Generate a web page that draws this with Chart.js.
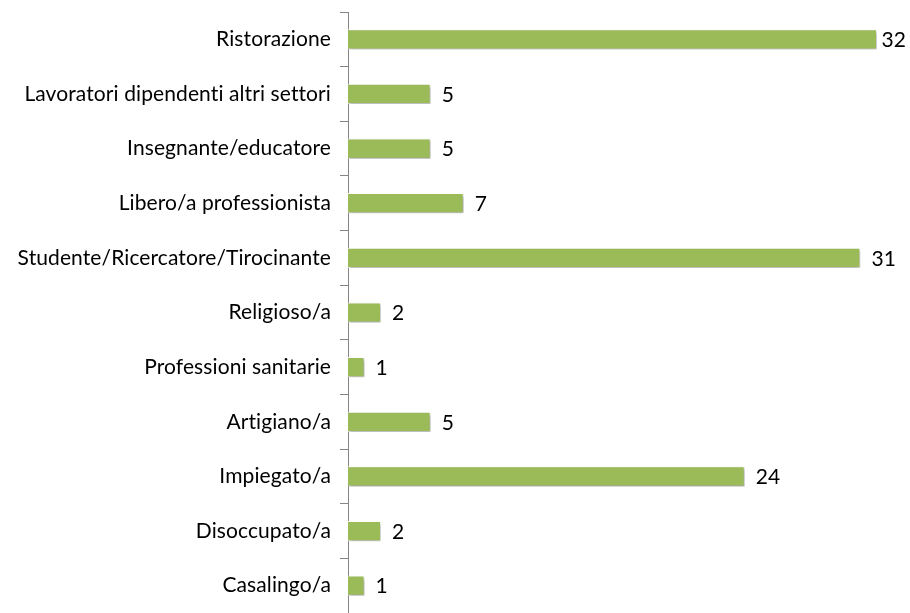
<!DOCTYPE html>
<html>
<head>
<meta charset="utf-8">
<script src="https://cdn.jsdelivr.net/npm/chart.js@4.4.0/dist/chart.umd.min.js"></script>
<style>
  html, body { margin: 0; padding: 0; background: #fff; }
  #wrap { width: 910px; height: 613px; position: relative; }
</style>
</head>
<body>
<div id="wrap"><canvas id="chart"></canvas></div>
<script>
const categories = [
    'Ristorazione',
    'Lavoratori dipendenti altri settori',
    'Insegnante/educatore',
    'Libero/a professionista',
    'Studente/Ricercatore/Tirocinante',
    'Religioso/a',
    'Professioni sanitarie',
    'Artigiano/a',
    'Impiegato/a',
    'Disoccupato/a',
    'Casalingo/a'
];
const counts = [32, 5, 5, 7, 31, 2, 1, 5, 24, 2, 1];

const fontFamily = 'Lato, "Open Sans", sans-serif';

// tiny letter spacing keeps Lato from joining "ti" into a ligature
const noLigatures = {
    id: 'noLigatures',
    beforeDraw(chart) {
        chart.ctx.letterSpacing = '0.1px';
    }
};

// soft drop shadow under the bars
const barShadow = {
    id: 'barShadow',
    beforeDatasetDraw(chart) {
        const c = chart.ctx;
        c.save();
        c.shadowColor = 'rgba(0,0,0,0.35)';
        c.shadowBlur = 3;
        c.shadowOffsetX = 1;
        c.shadowOffsetY = 2;
    },
    afterDatasetDraw(chart) {
        chart.ctx.restore();
    }
};

// value labels at the end of each bar
const valueLabels = {
    id: 'valueLabels',
    afterDatasetsDraw(chart) {
        const c = chart.ctx;
        const meta = chart.getDatasetMeta(0);
        c.save();
        c.font = '21px ' + fontFamily;
        c.fillStyle = '#000';
        c.textBaseline = 'middle';
        c.textAlign = 'left';
        meta.data.forEach((bar, i) => {
            const txt = String(counts[i]);
            const w = c.measureText(txt).width;
            const x = Math.min(bar.x + 11, chart.width - w - 4);
            c.fillText(txt, x, bar.y + 1);
        });
        c.restore();
    }
};

const ctx = document.getElementById('chart').getContext('2d');
new Chart(ctx, {
    type: 'bar',
    data: {
        labels: categories,
        datasets: [{
            data: counts,
            backgroundColor: '#9BBB59',
            borderColor: 'rgba(255,255,255,0.9)',
            borderWidth: 1,
            borderSkipped: 'start',
            categoryPercentage: 1,
            barPercentage: 0.37
        }]
    },
    options: {
        indexAxis: 'y',
        responsive: true,
        maintainAspectRatio: false,
        animation: false,
        layout: { padding: { top: 12, bottom: 0, left: 0, right: 0 } },
        plugins: {
            legend: { display: false },
            tooltip: { enabled: false }
        },
        scales: {
            x: {
                display: false,
                min: 0,
                max: 34
            },
            y: {
                offset: true,
                afterFit(scale) {
                    scale.width = 348;
                    scale.paddingTop = 0;
                    scale.paddingBottom = 0;
                },
                grid: {
                    offset: true,
                    drawOnChartArea: false,
                    drawTicks: true,
                    tickLength: 8,
                    color: '#868686'
                },
                border: { display: true, color: '#868686', width: 1 },
                ticks: {
                    padding: 9,
                    color: '#000',
                    font: { size: 21, family: fontFamily }
                }
            }
        }
    },
    plugins: [noLigatures, barShadow, valueLabels]
});
</script>
</body>
</html>
